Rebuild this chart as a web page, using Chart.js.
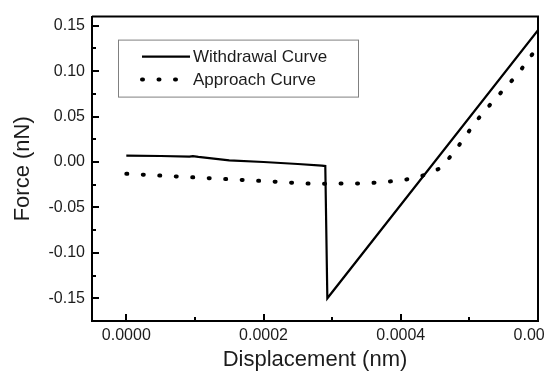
<!DOCTYPE html>
<html>
<head>
<meta charset="utf-8">
<script src="https://cdn.jsdelivr.net/npm/chart.js@4/dist/chart.umd.min.js"></script>
<style>
  html, body { margin: 0; padding: 0; background: #fff; }
  #wrap { width: 544px; height: 371px; overflow: hidden; }
</style>
</head>
<body>
<div id="wrap"><canvas id="afm" width="600" height="371"></canvas></div>
<script>
// values
const withdrawalX = [0, 0.00005, 0.000092, 0.000097, 0.000105, 0.00015, 0.0002, 0.00025, 0.000285, 0.00029, 0.000293, 0.0006];
const withdrawalY = [0.0070, 0.0066, 0.0059, 0.0065, 0.0056, 0.0018, 0.0000, -0.0022, -0.0040, -0.0045, -0.150, 0.145];

const approachX = [0, 0.0001, 0.0002, 0.00027, 0.00035, 0.00039, 0.00042, 0.00044, 0.000457, 0.000476, 0.000493, 0.00051, 0.000529, 0.000549, 0.000571, 0.00059, 0.0006];
const approachY = [-0.013, -0.017, -0.021, -0.024, -0.0235, -0.021, -0.018, -0.013, -0.007, 0.009, 0.027, 0.045, 0.062, 0.079, 0.097, 0.117, 0.126];

const xTicks = [0, 0.0002, 0.0004, 0.0006];
const yTicks = [-0.15, -0.10, -0.05, 0.00, 0.05, 0.10, 0.15];

const FONT = "'Liberation Sans', Arial, sans-serif";
const INK = "#1c1c1c";

function pairs(xs, ys) {
    return xs.map((x, i) => ({ x: x, y: ys[i] }));
}

function midpoints(vals) {
    const out = [];
    for (let i = 0; i < vals.length - 1; i++) out.push((vals[i] + vals[i + 1]) / 2);
    return out;
}

// inward ticks + frame on top and right
const frameTicks = {
    id: "frameTicks",
    afterDraw(c) {
        const ctx = c.ctx;
        const a = c.chartArea;
        const xs = c.scales.x, ys = c.scales.y;
        ctx.save();
        ctx.strokeStyle = "#000";
        ctx.lineWidth = 2;
        ctx.beginPath();
        ctx.moveTo(a.left, a.top);
        ctx.lineTo(a.right, a.top);
        ctx.lineTo(a.right, a.bottom);
        ctx.stroke();

        ctx.beginPath();
        xTicks.forEach(v => {
            const p = Math.round(xs.getPixelForValue(v));
            if (p <= a.left || p >= a.right) return;
            ctx.moveTo(p, a.bottom);
            ctx.lineTo(p, a.bottom - 7);
        });
        midpoints(xTicks).forEach(v => {
            const p = Math.round(xs.getPixelForValue(v));
            ctx.moveTo(p, a.bottom);
            ctx.lineTo(p, a.bottom - 4);
        });
        yTicks.forEach(v => {
            const p = Math.round(ys.getPixelForValue(v));
            ctx.moveTo(a.left, p);
            ctx.lineTo(a.left + 7, p);
        });
        midpoints(yTicks).forEach(v => {
            const p = Math.round(ys.getPixelForValue(v));
            ctx.moveTo(a.left, p);
            ctx.lineTo(a.left + 4, p);
        });
        ctx.stroke();
        ctx.restore();
    }
};

// boxed legend inside the plot
const boxLegend = {
    id: "boxLegend",
    afterDraw(c) {
        const ctx = c.ctx;
        const a = c.chartArea;
        const bx = a.left + 26, by = a.top + 23, bw = 240, bh = 57;
        ctx.save();
        ctx.fillStyle = "#fff";
        ctx.fillRect(bx, by, bw, bh);
        ctx.strokeStyle = "#808080";
        ctx.lineWidth = 1;
        ctx.strokeRect(bx + 0.5, by + 0.5, bw, bh);

        ctx.font = "17px " + FONT;
        ctx.fillStyle = INK;
        ctx.textBaseline = "middle";
        c.data.datasets.forEach((ds, i) => {
            const ly = by + 17 + i * 23;
            ctx.beginPath();
            ctx.strokeStyle = ds.borderColor;
            ctx.lineWidth = ds.borderWidth;
            ctx.lineCap = ds.borderCapStyle || "butt";
            ctx.setLineDash(ds.borderDash || []);
            ctx.moveTo(bx + 24, ly);
            ctx.lineTo(bx + 72, ly);
            ctx.stroke();
            ctx.setLineDash([]);
            ctx.fillText(ds.label, bx + 75, ly + 1);
        });
        ctx.restore();
    }
};

new Chart(document.getElementById("afm"), {
    type: "line",
    data: {
        datasets: [
            {
                label: "Withdrawal Curve",
                data: pairs(withdrawalX, withdrawalY),
                borderColor: "#000",
                borderWidth: 2.2,
                pointRadius: 0,
                tension: 0
            },
            {
                label: "Approach Curve",
                data: pairs(approachX, approachY),
                borderColor: "#000",
                borderWidth: 4,
                borderDash: [1, 15.5],
                borderCapStyle: "round",
                pointRadius: 0,
                tension: 0
            }
        ]
    },
    options: {
        responsive: false,
        animation: false,
        events: [],
        layout: { padding: { left: 0, top: 14, right: 62, bottom: 0 } },
        plugins: {
            legend: { display: false },
            tooltip: { enabled: false }
        },
        scales: {
            x: {
                type: "linear",
                min: -0.00005,
                max: 0.0006,
                afterFit: s => { s.height = 50; },
                afterBuildTicks: s => { s.ticks = xTicks.map(v => ({ value: v })); },
                grid: { display: false, drawTicks: false },
                border: { display: true, color: "#000", width: 2 },
                ticks: {
                    padding: 5,
                    color: INK,
                    font: { family: FONT, size: 16 },
                    callback: v => v.toFixed(4)
                },
                title: {
                    display: true,
                    text: "Displacement (nm)",
                    color: INK,
                    font: { family: FONT, size: 22, lineHeight: 1 },
                    padding: { top: 0, bottom: 0 }
                }
            },
            y: {
                min: -0.175,
                max: 0.16,
                afterFit: s => { s.width = 92; },
                afterBuildTicks: s => { s.ticks = yTicks.map(v => ({ value: v })); },
                grid: { display: false, drawTicks: false },
                border: { display: true, color: "#000", width: 2 },
                ticks: {
                    padding: 7,
                    color: INK,
                    font: { family: FONT, size: 16 },
                    callback: v => v.toFixed(2)
                },
                title: {
                    display: true,
                    text: "Force (nN)",
                    color: INK,
                    font: { family: FONT, size: 22, lineHeight: 1 },
                    padding: { top: 12, bottom: 0 }
                }
            }
        }
    },
    plugins: [frameTicks, boxLegend]
});
</script>
</body>
</html>
